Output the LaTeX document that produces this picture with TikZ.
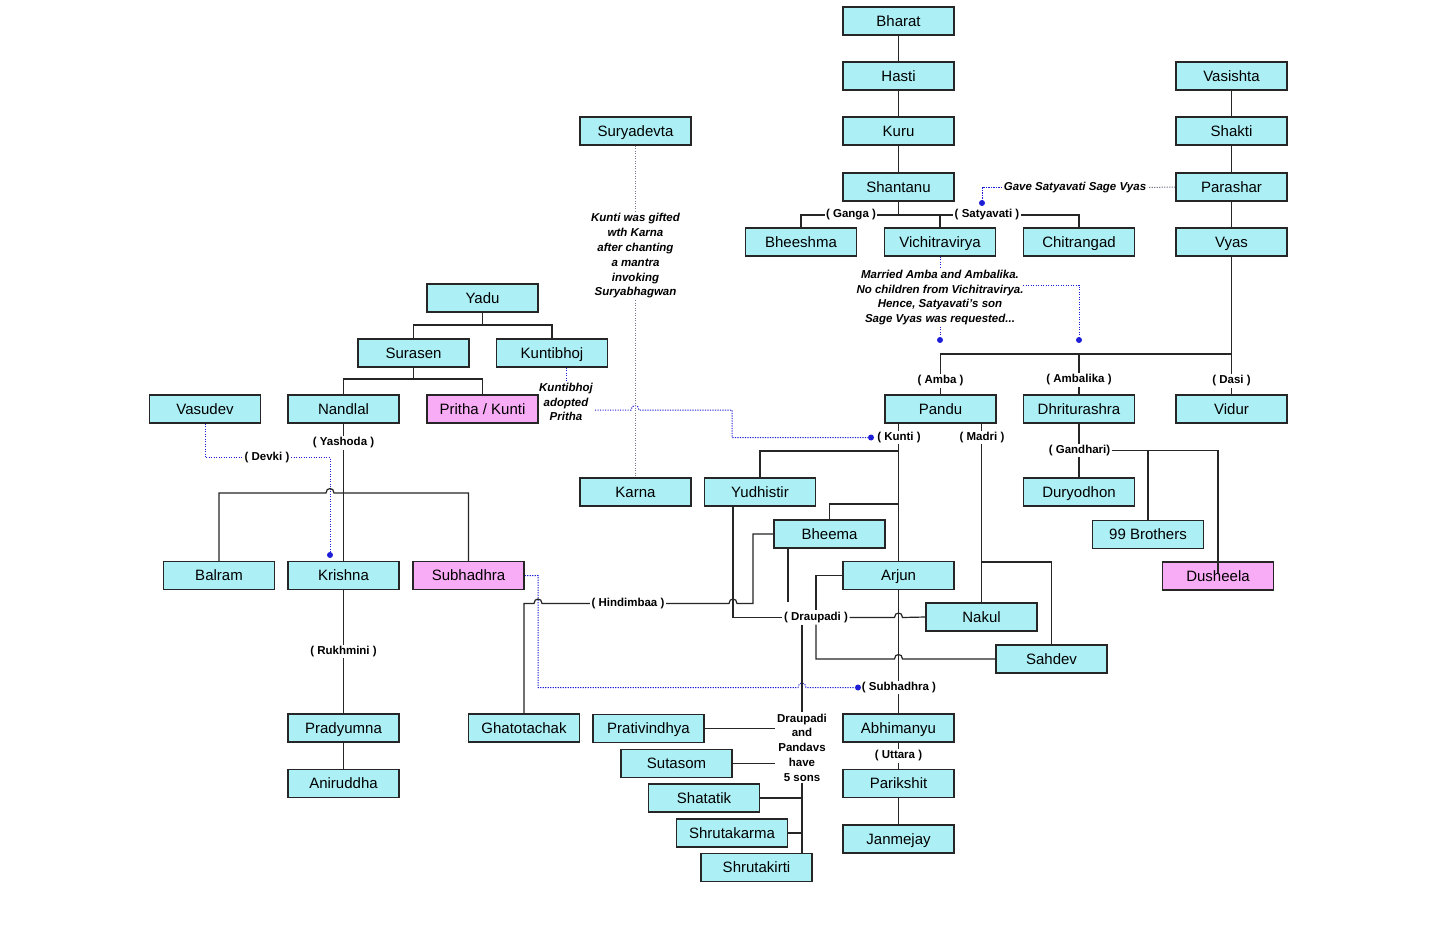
\documentclass[tikz,border=0pt]{standalone}
\usepackage{fontspec}
\setmainfont{Liberation Sans}
\pgfdeclarelayer{bg}
\pgfdeclarelayer{lines}
\pgfsetlayers{bg,lines,main}
\definecolor{boxcyan}{RGB}{172,240,246}
\definecolor{boxpink}{RGB}{248,172,246}
\definecolor{dotblue}{RGB}{30,30,215}
\definecolor{dotgray}{RGB}{120,120,140}
\tikzset{
  box/.style={draw=black!85, line width=1.2pt, fill=boxcyan, minimum width=111pt, minimum height=28pt, inner sep=0pt, text height=10.7pt, text depth=0pt, font=\fontsize{15}{18}\selectfont},
  pbox/.style={box, fill=boxpink},
  lab/.style={fill=white, inner sep=1.5pt, font=\bfseries\fontsize{11.5}{13}\selectfont},
  note/.style={align=center, inner sep=1.5pt, font=\bfseries\itshape\fontsize{11.5}{14.8}\selectfont},
  sonsnote/.style={align=center, inner sep=1.5pt, font=\bfseries\fontsize{11.5}{14.7}\selectfont},
  link/.style={line width=1.2pt, black!85},
  bdot/.style={line width=1pt, dotblue, dash pattern=on 1.2pt off 1.3pt},
  gdot/.style={line width=1pt, dotgray, dash pattern=on 1.2pt off 1.3pt},
  blob/.style={fill=dotblue}
}
\begin{document}
\begin{tikzpicture}[x=1pt,y=-1pt]
\useasboundingbox (0,0) rectangle (1456,931);
\begin{pgfonlayer}{bg}
\fill[white] (0,0) rectangle (1456,931);
\end{pgfonlayer}

% ---------- boxes ----------
\node[box] (bharat) at (898.5,21) {Bharat};
\node[box] (hasti) at (898.5,76) {Hasti};
\node[box] (kuru) at (898.5,131) {Kuru};
\node[box] (shantanu) at (898.5,187) {Shantanu};
\node[box] (vasishta) at (1231.5,76) {Vasishta};
\node[box] (shakti) at (1231.5,131) {Shakti};
\node[box] (parashar) at (1231.5,187) {Parashar};
\node[box] (vyas) at (1231.5,242) {Vyas};
\node[box] (bheeshma) at (801,242) {Bheeshma};
\node[box] (vichitra) at (940,242) {Vichitravirya};
\node[box] (chitrangad) at (1079,242) {Chitrangad};
\node[box] (surya) at (635.5,131) {Suryadevta};
\node[box] (yadu) at (482.5,298) {Yadu};
\node[box] (surasen) at (413.5,353) {Surasen};
\node[box] (kuntibhoj) at (552,353) {Kuntibhoj};
\node[box] (vasudev) at (205,409) {Vasudev};
\node[box] (nandlal) at (343.5,409) {Nandlal};
\node[pbox] (pritha) at (482.5,409) {Pritha / Kunti};
\node[box] (pandu) at (940.5,409) {Pandu};
\node[box] (dhrit) at (1079,409) {Dhriturashra};
\node[box] (vidur) at (1231.5,409) {Vidur};
\node[box] (karna) at (635.5,492) {Karna};
\node[box] (yudhi) at (760,492) {Yudhistir};
\node[box] (duryo) at (1079,492) {Duryodhon};
\node[box] (bheema) at (829.5,534) {Bheema};
\node[box] (brothers) at (1148,534.5) {99 Brothers};
\node[box] (balram) at (219,575.5) {Balram};
\node[box] (krishna) at (343.5,575.5) {Krishna};
\node[pbox] (subhadhra) at (468.5,575.5) {Subhadhra};
\node[box] (arjun) at (898.5,575.5) {Arjun};
\node[pbox] (dusheela) at (1218,576) {Dusheela};
\node[box] (nakul) at (981.5,617) {Nakul};
\node[box] (sahdev) at (1051.5,659) {Sahdev};
\node[box] (pradyumna) at (343.5,728) {Pradyumna};
\node[box] (aniruddha) at (343.5,783.5) {Aniruddha};
\node[box] (ghato) at (524,728) {Ghatotachak};
\node[box] (prati) at (648.5,728.5) {Prativindhya};
\node[box] (abhi) at (898.5,728) {Abhimanyu};
\node[box] (sutasom) at (676.5,763.5) {Sutasom};
\node[box] (parikshit) at (898.5,783.5) {Parikshit};
\node[box] (shatatik) at (704,798) {Shatatik};
\node[box] (shrutakarma) at (732,833) {Shrutakarma};
\node[box] (janmejay) at (898.5,839) {Janmejay};
\node[box] (shrutakirti) at (756.5,867.5) {Shrutakirti};

% ---------- spouse labels ----------
\node[lab] (ganga) at (851,215) {( Ganga )};
\node[lab] (satyavati) at (987,215) {( Satyavati )};
\node[lab] (amba) at (940.5,381) {( Amba )};
\node[lab] (ambalika) at (1079,380) {( Ambalika )};
\node[lab] (dasi) at (1231.5,381) {( Dasi )};
\node[lab] (kunti) at (899,437.5) {( Kunti )};
\node[lab] (madri) at (982,437.5) {( Madri )};
\node[lab] (gandhari) at (1079.5,450.5) {( Gandhari)};
\node[lab] (yashoda) at (343.5,443) {( Yashoda )};
\node[lab] (devki) at (267,457.5) {( Devki )};
\node[lab] (rukhmini) at (343.5,651.5) {( Rukhmini )};
\node[lab] (hindimbaa) at (628,603.5) {( Hindimbaa )};
\node[lab] (draupadi) at (816,617.5) {( Draupadi )};
\node[lab] (lsubhadhra) at (899,687.5) {( Subhadhra )};
\node[lab] (uttara) at (898.5,756) {( Uttara )};

% ---------- notes ----------
\node[note] (gave) at (1075,187.5) {Gave Satyavati Sage Vyas};
\node[note] (married) at (940,297.5) {Married Amba and Ambalika.\\No children from Vichitravirya.\\Hence, Satyavati’s son\\Sage Vyas was requested...};
\node[note] (gifted) at (635.5,256) {Kunti was gifted\\wth Karna\\after chanting\\a mantra\\invoking\\Suryabhagwan};
\node[note] (adopted) at (566,402) {Kuntibhoj\\adopted\\Pritha};
\node[sonsnote] (sons) at (802,747.5) {Draupadi\\and\\Pandavs\\have\\5 sons};

% ---------- junction coordinates ----------
\coordinate (gavedot) at (982,203);
\coordinate (mright) at (1023,285);
\coordinate (mdot1) at (940,340);
\coordinate (mdot2) at (1079,340);
\coordinate (vyasj) at (1231.5,354);
\coordinate (yaduj) at (482.5,325);
\coordinate (surj) at (413.5,379);
\coordinate (adr) at (595,410);
\coordinate (kdot) at (871,437.5);
\coordinate (vdot) at (330,555);
\coordinate (sdot) at (858,687.5);
\coordinate (kj1) at (898.5,451);
\coordinate (kj2) at (898.5,504);
\coordinate (mj) at (981.5,562);
\coordinate (dj) at (1218,573);

\begin{pgfonlayer}{lines}
% Kuru line
\draw[link] (bharat) -- (hasti);
\draw[link] (hasti) -- (kuru);
\draw[link] (kuru) -- (shantanu);
\draw[link] (shantanu.south) -- (shantanu.south |- ganga);
\draw[link] (bheeshma.north) |- (chitrangad.north |- ganga) -- (chitrangad.north);
\draw[link] (vichitra.north) -- (vichitra.north |- ganga);
% Vasishta line
\draw[link] (vasishta) -- (shakti);
\draw[link] (shakti) -- (parashar);
\draw[link] (parashar) -- (vyas);
\draw[link] (vyas.south) -- (vidur.north);
\draw[link] (vyasj) -| (pandu.north);
\draw[link] (dhrit.north |- vyasj) -- (dhrit.north);
% notes
\draw[gdot] (parashar.west) -- (gave.east);
\draw[bdot] (gave.west) -| (gavedot);
\draw[bdot] (vichitra.south) -- (vichitra.south |- married.north);
\draw[bdot] (mdot1 |- married.south) -- (mdot1);
\draw[bdot] (mright) -| (mdot2);
% Yadu line
\draw[link] (yadu.south) -- (yaduj);
\draw[link] (surasen.north) |- (yaduj) -| (kuntibhoj.north);
\draw[link] (surasen.south) -- (surj);
\draw[link] (nandlal.north) |- (surj) -| (pritha.north);
\draw[bdot] (kuntibhoj.south -| adopted) -- (adopted.north);
\draw[bdot] (adr) -- (631,410) .. controls (631,404) and (639,404) .. (639,410) -- (732,410) |- (kdot);
% Surya
\draw[gdot] (surya.south) -- (gifted.north);
\draw[gdot] (gifted.south) -- (karna.north);
% Vasudev / Nandlal
\draw[bdot] (vasudev.south) |- (devki.west);
\draw[bdot] (devki.east) -| (vdot);
\draw[link] (nandlal.south) -- (krishna.north);
\draw[link] (balram.north) |- (326,493) .. controls (326,487) and (334,487) .. (334,493) -| (subhadhra.north);
\draw[link] (krishna.south) -- (pradyumna.north);
\draw[link] (pradyumna) -- (aniruddha);
% Subhadhra dotted
\draw[bdot] (subhadhra.east) -- (538,575.5) |- (798,687.5) .. controls (798,681.5) and (806,681.5) .. (806,687.5) -- (sdot);
% Hindimbaa
\draw[link] (ghato.north) |- (534,603.5) .. controls (534,597.5) and (542,597.5) .. (542,603.5) -- (hindimbaa.west);
\draw[link] (hindimbaa.east) -- (729,603.5) .. controls (729,597.5) and (737,597.5) .. (737,603.5) -- (753,603.5) |- (bheema.west);
% Pandu / Kunti
\draw[link] (pandu.south -| arjun.north) -- (arjun.north);
\draw[link] (yudhi.north) |- (kj1);
\draw[link] (bheema.north) |- (kj2);
\draw[link] (arjun.south) -- (abhi.north);
\draw[link] (abhi.south) -- (parikshit.north);
\draw[link] (parikshit) -- (janmejay);
% Madri
\draw[link] (pandu.south -| nakul.north) -- (nakul.north);
\draw[link] (mj) -| (sahdev.north);
% Draupadi
\draw[link] ([xshift=-27pt]yudhi.south) |- (draupadi.west);
\draw[link] ([xshift=-41.5pt]bheema.south) -- ++(0,53);
\draw[link] (arjun.west) -| (draupadi.north);
\draw[link] (draupadi.east) -- (894.5,617.5) .. controls (894.5,611.5) and (902.5,611.5) .. (902.5,617.5) -- (nakul.west);
\draw[link] (draupadi.south) |- (894.5,659) .. controls (894.5,653) and (902.5,653) .. (902.5,659) -- (sahdev.west);
\draw[link] ([xshift=-14pt]draupadi.south) -- (sons.north);
\draw[link] (sons.south) -- (sons.south |- shrutakirti.north);
\draw[link] (prati.east) -- (prati.east -| sons.west);
\draw[link] (sutasom.east) -- (sutasom.east -| sons.west);
\draw[link] (shatatik.east) -- (shatatik.east -| sons.south);
\draw[link] (shrutakarma.east) -- (shrutakarma.east -| sons.south);
% Dhritarashtra
\draw[link] (dhrit.south) -- (duryo.north);
\draw[link] (brothers.north) -- (brothers.north |- gandhari.east);
\end{pgfonlayer}

\draw[link] (gandhari.east) -| (dj);

% dots
\fill[blob] (gavedot) circle (3);
\fill[blob] (mdot1) circle (3);
\fill[blob] (mdot2) circle (3);
\fill[blob] (kdot) circle (3);
\fill[blob] (vdot) circle (3);
\fill[blob] (sdot) circle (3);
\end{tikzpicture}
\end{document}
